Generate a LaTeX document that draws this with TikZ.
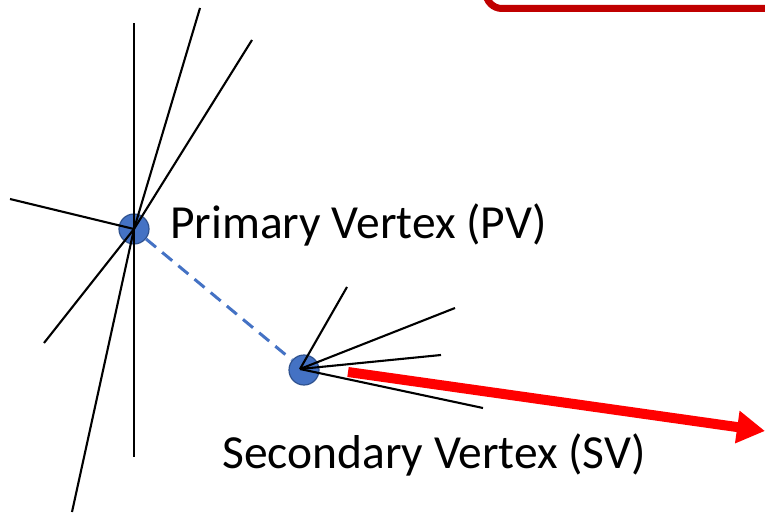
\documentclass[tikz,border=0pt]{standalone}
\usepackage{fontspec}
\setmainfont{Carlito}
\usepackage{xcolor}
\usetikzlibrary{arrows.meta}
\definecolor{vtxblue}{HTML}{4472C4}
\definecolor{vtxedge}{HTML}{2F528F}
\definecolor{boxred}{HTML}{C00000}

\begin{document}
\begin{tikzpicture}[
  x=1pt,y=-1pt,
  vertex/.style={circle,fill=vtxblue,draw=vtxedge,line width=1.2pt,
    minimum size=30pt,inner sep=0pt},
  track/.style={draw=black,line width=2.1pt},
  flight/.style={draw=vtxblue,line width=3pt,dash pattern=on 13pt off 8pt},
  jet/.style={-{Triangle[length=28pt,width=31pt]},draw=red,line width=10pt},
  vertex label/.style={anchor=base west,inner sep=0pt,
    font=\fontsize{47.5}{52}\selectfont}
]
\useasboundingbox (0,0) rectangle (765,513);

% cropped box at the top edge
\draw[boxred,line width=7pt,rounded corners=16pt] (486,-60) rectangle (830,8.5);

% the two vertices and the flight path between them
\node[vertex] (pv) at (134,229) {};
\node[vertex] (sv) at (304,370) {};
\draw[flight] (pv) -- (sv);

\node[vertex label] (pv-label) at (170,238) {Primary Vertex (PV)};
\node[vertex label] (sv-label) at (222,468) {Secondary Vertex (SV)};

% PV tracks
\coordinate (pv-t1) at (134,23);
\coordinate (pv-t2) at (200,8);
\coordinate (pv-t3) at (252,40);
\coordinate (pv-t4) at (10,199);
\coordinate (pv-t5) at (44,343);
\coordinate (pv-t6) at (72,512);
\coordinate (pv-t7) at (134,457);
\draw[track] (pv.center) -- (pv-t1);
\draw[track] (pv.center) -- (pv-t2);
\draw[track] (pv.center) -- (pv-t3);
\draw[track] (pv.center) -- (pv-t4);
\draw[track] (pv.center) -- (pv-t5);
\draw[track] (pv.center) -- (pv-t6);
\draw[track] (pv.center) -- (pv-t7);

% SV tracks
\coordinate (sv-o) at (300,369);
\coordinate (sv-t1) at (347,287);
\coordinate (sv-t2) at (455,308);
\coordinate (sv-t3) at (441,355);
\coordinate (sv-t4) at (483,408);
\draw[track] (sv-o) -- (sv-t1);
\draw[track] (sv-o) -- (sv-t2);
\draw[track] (sv-o) -- (sv-t3);
\draw[track] (sv-o) -- (sv-t4);

% jet direction
\coordinate (jet-start) at (348,372);
\coordinate (jet-end) at (765,431);
\draw[jet] (jet-start) -- (jet-end);

\end{tikzpicture}
\end{document}
